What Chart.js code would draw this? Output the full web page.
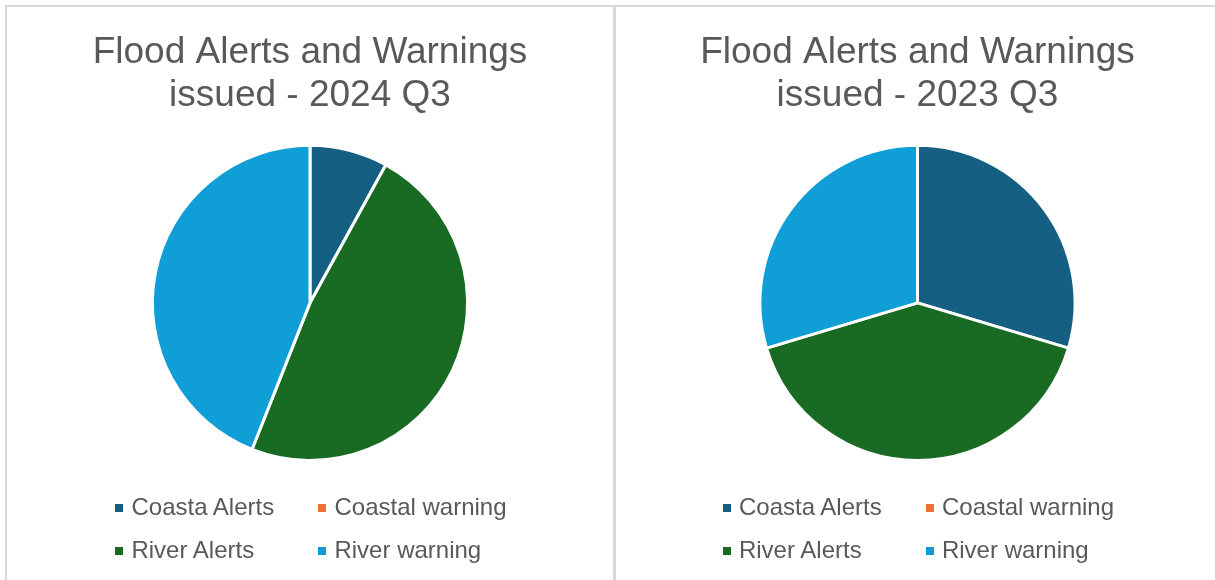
<!DOCTYPE html>
<html>
<head>
<meta charset="utf-8">
<script src="https://cdn.jsdelivr.net/npm/chart.js@4.4.1/dist/chart.umd.min.js"></script>
<style>
  body { margin: 0; background: #ffffff; width: 1215px; height: 580px; overflow: hidden; position: relative; font-family: "Liberation Sans", Arial, sans-serif; }
  .panel { position: absolute; top: 5px; height: 590px; border: 2px solid #d9d9d9; border-bottom: none; background: #fff; }
  #p1 { left: 5px; width: 606px; }
  #p2 { left: 614px; width: 603px; border-right: none; }
  canvas { display: block; }
  .legend { position: absolute; left: 1px; width: 100%; top: 478px; display: flex; justify-content: center; }
  .legend .grid { display: grid; grid-template-columns: 203px auto; }
  .legend .item { font-size: 24px; line-height: 43px; color: #595959; white-space: nowrap; }
  .legend .box { display: inline-block; width: 8px; height: 8px; margin-right: 8px; vertical-align: middle; position: relative; top: -1px; }
</style>
</head>
<body>
<div class="panel" id="p1"><canvas id="pie2024" width="606" height="573"></canvas><div class="legend" id="leg2024"></div></div>
<div class="panel" id="p2"><canvas id="pie2023" width="603" height="573"></canvas><div class="legend" id="leg2023"></div></div>
<script>
const categories = ['Coasta Alerts', 'Coastal warning', 'River Alerts', 'River warning'];
const values2024 = [2, 0, 12, 11];
const values2023 = [8, 0, 11, 8];
const titles2024 = ['Flood Alerts and Warnings', 'issued - 2024 Q3'];
const titles2023 = ['Flood Alerts and Warnings', 'issued - 2023 Q3'];
const sliceColors = ['#156082', '#e97132', '#196b24', '#0f9ed5'];

function makePie(id, legendId, values, title) {
    const chart = new Chart(document.getElementById(id), {
        type: 'pie',
        data: {
            labels: categories,
            datasets: [{
                data: values,
                backgroundColor: sliceColors,
                borderColor: '#ffffff',
                borderWidth: 3
            }]
        },
        options: {
            responsive: false,
            animation: false,
            devicePixelRatio: 1,
            layout: { padding: { bottom: 118 } },
            plugins: {
                legend: { display: false },
                tooltip: { enabled: false },
                title: {
                    display: true,
                    text: title,
                    color: '#595959',
                    font: { family: '"Liberation Sans", Arial, sans-serif', size: 37, weight: 'normal', lineHeight: 1.16 },
                    padding: { top: 24, bottom: 27 }
                }
            }
        }
    });
    // html legend in two columns, built from the chart's own labels
    const grid = document.createElement('div');
    grid.className = 'grid';
    chart.data.labels.forEach(function (lab, i) {
        const item = document.createElement('div');
        item.className = 'item';
        const box = document.createElement('span');
        box.className = 'box';
        box.style.background = chart.data.datasets[0].backgroundColor[i];
        item.appendChild(box);
        item.appendChild(document.createTextNode(lab));
        grid.appendChild(item);
    });
    document.getElementById(legendId).appendChild(grid);
    return chart;
}

makePie('pie2024', 'leg2024', values2024, titles2024);
makePie('pie2023', 'leg2023', values2023, titles2023);
</script>
</body>
</html>
